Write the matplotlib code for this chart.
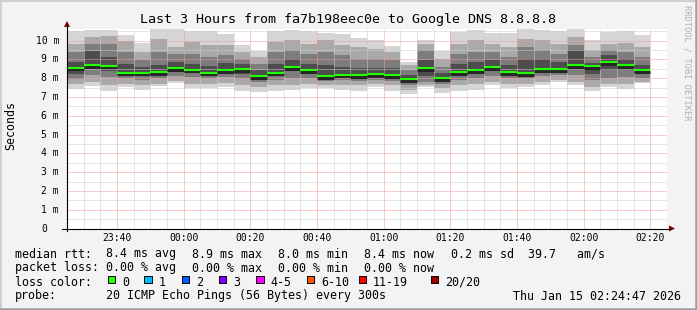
import matplotlib
matplotlib.use("Agg")
import matplotlib.pyplot as plt
from matplotlib.lines import Line2D
from matplotlib.patches import Polygon, Rectangle
import matplotlib.transforms as mtransforms
import numpy as np

W, H = 697, 310
MONO = "DejaVu Sans Mono"

# ---------------- data ----------------
title = "Last 3 Hours from fa7b198eec0e to Google DNS 8.8.8.8"
ylabel = "Seconds"
view_start = "23:25"
view_minutes = 180
first_slot = "23:25"
slot_minutes = 5

median = [8.56, 8.71, 8.66, 8.29, 8.29, 8.33, 8.54, 8.45, 8.29, 8.44, 8.49, 8.11,
          8.29, 8.60, 8.44, 8.11, 8.18, 8.17, 8.22, 8.16, 7.96, 8.54, 8.00, 8.32,
          8.43, 8.60, 8.33, 8.28, 8.48, 8.48, 8.71, 8.64, 8.86, 8.71, 8.43]
ping_max = [10.53, 10.57, 10.57, 10.31, 9.88, 10.65, 10.65, 10.52, 10.52, 10.35, 9.76, 9.46,
            10.52, 10.59, 10.52, 10.43, 10.38, 10.17, 10.03, 9.71, 8.87, 10.03, 9.46, 10.47,
            10.56, 10.42, 10.42, 10.65, 10.59, 10.50, 10.65, 10.06, 10.44, 10.50, 10.29]
ping_min = [7.43, 7.58, 7.33, 7.51, 7.37, 7.58, 7.76, 7.46, 7.46, 7.51, 7.33, 7.28,
            7.33, 7.37, 7.46, 7.50, 7.37, 7.33, 7.51, 7.33, 7.15, 7.51, 7.22, 7.33,
            7.37, 7.63, 7.46, 7.51, 7.63, 7.81, 7.63, 7.33, 7.51, 7.43, 7.74]
upper2 = [9.83, 10.20, 10.27, 9.96, 9.40, 10.11, 9.67, 9.94, 9.76, 9.76, 9.40, 9.14,
          9.94, 10.03, 9.85, 10.03, 9.76, 9.67, 9.58, 9.40, 8.70, 9.85, 9.05, 9.85,
          10.03, 9.85, 9.67, 10.11, 10.03, 9.85, 10.20, 9.49, 9.85, 9.88, 9.67]
lower2 = [7.69, 7.81, 7.63, 7.72, 7.63, 7.72, 7.86, 7.72, 7.72, 7.76, 7.63, 7.54,
          7.63, 7.63, 7.72, 7.63, 7.63, 7.63, 7.72, 7.63, 7.40, 7.63, 7.46, 7.63,
          7.68, 7.81, 7.72, 7.72, 7.81, 7.93, 7.81, 7.54, 7.72, 7.72, 7.81]
upper3 = [9.38, 9.85, 9.82, 9.40, 8.96, 9.40, 9.31, 9.31, 9.14, 9.23, 9.05, 8.78,
          9.40, 9.49, 9.31, 9.40, 9.23, 9.05, 9.05, 8.96, 8.43, 9.49, 8.61, 9.31,
          9.40, 9.40, 9.14, 9.67, 9.49, 9.31, 9.76, 9.14, 9.49, 9.40, 9.14]
lower3 = [7.96, 8.16, 8.07, 7.99, 7.93, 8.04, 8.11, 8.07, 7.99, 8.07, 7.99, 7.81,
          7.93, 7.99, 8.04, 7.86, 7.90, 7.86, 7.93, 7.86, 7.63, 7.81, 7.72, 7.90,
          7.99, 8.11, 7.99, 7.99, 8.11, 8.16, 8.16, 7.90, 7.99, 8.07, 8.04]
upper4 = [8.85, 9.45, 9.15, 8.78, 8.61, 8.70, 8.87, 8.78, 8.64, 8.82, 8.75, 8.43,
          8.78, 9.05, 8.78, 8.70, 8.61, 8.52, 8.52, 8.52, 8.16, 8.96, 8.29, 8.78,
          8.87, 8.96, 8.70, 9.05, 9.05, 8.87, 9.49, 8.82, 9.23, 9.05, 8.70]
lower4 = [8.23, 8.47, 8.40, 8.16, 8.16, 8.20, 8.40, 8.29, 8.16, 8.29, 8.25, 7.99,
          8.16, 8.40, 8.25, 7.99, 8.07, 8.04, 8.07, 8.04, 7.81, 8.11, 7.86, 8.16,
          8.25, 8.40, 8.20, 8.16, 8.34, 8.34, 8.43, 8.25, 8.43, 8.43, 8.25]

xtick_labels = ["23:40", "00:00", "00:20", "00:40", "01:00", "01:20", "01:40", "02:00", "02:20"]
ytick_values = [0, 1, 2, 3, 4, 5, 6, 7, 8, 9, 10]
ytick_labels = ["0", "1 m", "2 m", "3 m", "4 m", "5 m", "6 m", "7 m", "8 m", "9 m", "10 m"]

rtt_label = "median rtt:"
rtt_items = ["8.4 ms avg", "8.9 ms max", "8.0 ms min", "8.4 ms now", "0.2 ms sd", "39.7   am/s"]
loss_label = "packet loss:"
loss_items = ["0.00 % avg", "0.00 % max", "0.00 % min", "0.00 % now"]
color_label = "loss color:"
loss_classes = ["0", "1", "2", "3", "4-5", "6-10", "11-19", "20/20"]
loss_colors = ["#26ff00", "#00b8ff", "#0059ff", "#7e00ff", "#ff00ff", "#ff5500", "#ff0000", "#a10000"]
probe_label = "probe:"
probe_text = "20 ICMP Echo Pings (56 Bytes) every 300s"
stamp = "Thu Jan 15 02:24:47 2026"
watermark = "RRDTOOL / TOBI OETIKER"


def tmin(s):
    h, m = map(int, s.split(":"))
    t = h * 60 + m
    if h < 12:
        t += 24 * 60
    return t - 23 * 60


# ---------------- figure ----------------
fig = plt.figure(figsize=(W / 100, H / 100), dpi=100)
fig.patch.set_facecolor("#f3f3f3")


def P(x, y):
    return (x / W, 1 - y / H)


ax = fig.add_axes([67 / W, 1 - 228.5 / H, 600 / W, 200 / H])
ax.set_facecolor("white")
x0 = tmin(view_start)
ax.set_xlim(x0, x0 + view_minutes)
ax.set_ylim(0, 200 / 18.78)
for s in ax.spines.values():
    s.set_visible(False)

n = len(median)
xs = tmin(first_slot) + slot_minutes * np.arange(n)

layers = [(ping_min, ping_max, "#d5d5d5"),
          (lower2, upper2, "#a9a9a9"),
          (lower3, upper3, "#7d7d7d"),
          (lower4, upper4, "#4d4d4d")]
for lo, hi, c in layers:
    lo = np.array(lo); hi = np.array(hi)
    ax.bar(xs, hi - lo, bottom=lo, width=slot_minutes, align="edge",
           color=c, linewidth=0, zorder=1)

shadow = mtransforms.offset_copy(ax.transData, fig=fig, x=0, y=-1.6, units="dots")
ax.hlines(median, xs, xs + slot_minutes, colors="#262626", linewidth=2.2, zorder=3,
          transform=shadow)
ax.hlines(median, xs, xs + slot_minutes, colors="#22ff00", linewidth=1.5, zorder=4)

# grid
ax.set_xticks([tmin(t) for t in xtick_labels], xtick_labels)
ax.set_xticks(np.arange(x0, x0 + view_minutes + 1, 5), minor=True)
ax.set_yticks(ytick_values, [""] * len(ytick_values))
ax.set_yticks(np.arange(0.5, 10.6, 1.0), minor=True)
ax.set_axisbelow(False)
ax.grid(which="minor", color="#cfcfcf", linestyle=(0, (1, 1)), linewidth=0.72)
ax.grid(which="major", color="#f29a9a", linestyle=(0, (1, 1)), linewidth=0.72)
ax.tick_params(which="both", length=0)
ax.tick_params(axis="x", labelsize=7, pad=3.2, labelfontfamily=MONO)

# y labels
trans = mtransforms.blended_transform_factory(fig.transFigure, ax.transData)
for v, lab in zip(ytick_values, ytick_labels):
    xl = 35.5 if len(lab) == 4 else 41.4
    ax.text(xl / W, v, lab, transform=trans, ha="left", va="center",
            fontsize=7, family=MONO, clip_on=False)

# axis lines and arrows
fig.add_artist(Line2D([67 / W, 67 / W], [1 - 231 / H, 1 - 25 / H], color="black", lw=0.8))
fig.add_artist(Line2D([62 / W, 670 / W], [1 - 228.5 / H, 1 - 228.5 / H], color="black", lw=0.8))
fig.add_artist(Polygon([P(64, 27), P(70, 27), P(67, 21)], closed=True,
                       transform=fig.transFigure, color="#7f0000", lw=0))
fig.add_artist(Polygon([P(669, 225.5), P(669, 231.5), P(675, 228.5)], closed=True,
                       transform=fig.transFigure, color="#7f0000", lw=0))

# title, labels
fig.text(*P(348, 19), title, ha="center", va="center", fontsize=9.6, family=MONO)
fig.text(*P(10.5, 125), ylabel, ha="center", va="center", rotation=90, fontsize=8.4, family=MONO)
fig.text(*P(687, 5), watermark, ha="center", va="top", rotation=270,
         fontsize=6.2, family=MONO, color="#b0b0b0")

# legend
LF = 8.4
rows_y = [254, 268, 282, 296]
seg_x = [106.5, 192.5, 278.5, 364.5, 451, 528.5]
fig.text(*P(15.3, rows_y[0]), rtt_label, ha="left", va="center", fontsize=LF, family=MONO)
for xx, s in zip(seg_x, rtt_items):
    fig.text(*P(xx, rows_y[0]), s, ha="left", va="center", fontsize=LF, family=MONO)
fig.text(*P(15.3, rows_y[1]), loss_label, ha="left", va="center", fontsize=LF, family=MONO)
for xx, s in zip(seg_x, loss_items):
    fig.text(*P(xx, rows_y[1]), s, ha="left", va="center", fontsize=LF, family=MONO)
fig.text(*P(15.3, rows_y[2]), color_label, ha="left", va="center", fontsize=LF, family=MONO)
box_x = [108, 144.3, 182, 219, 256.3, 307, 358.7, 430.7]
for bx, lab, col in zip(box_x, loss_classes, loss_colors):
    bl = P(bx, 283)
    fig.add_artist(Rectangle(bl, 7.3 / W, 7.3 / H, transform=fig.transFigure,
                             facecolor=col, edgecolor="black", lw=0.7))
    fig.text(*P(bx + 14, rows_y[2]), lab, ha="left", va="center", fontsize=LF, family=MONO)
fig.text(*P(15.3, rows_y[3]), probe_label, ha="left", va="center", fontsize=LF, family=MONO)
fig.text(*P(106.5, rows_y[3]), probe_text, ha="left", va="center", fontsize=LF, family=MONO)
fig.text(*P(681, rows_y[3]), stamp, ha="right", va="center", fontsize=LF, family=MONO)

# frame
fig.add_artist(Line2D([0, 1], [1 - 0.7 / H, 1 - 0.7 / H], color="#cfcfcf", lw=1.5))
fig.add_artist(Line2D([0.7 / W, 0.7 / W], [0, 1], color="#cfcfcf", lw=1.5))
fig.add_artist(Line2D([0, 1], [1.2 / H, 1.2 / H], color="#9e9e9e", lw=1.8))
fig.add_artist(Line2D([1 - 1.2 / W, 1 - 1.2 / W], [0, 1], color="#9e9e9e", lw=1.8))

fig.savefig("out.png", dpi=100, facecolor=fig.get_facecolor())
